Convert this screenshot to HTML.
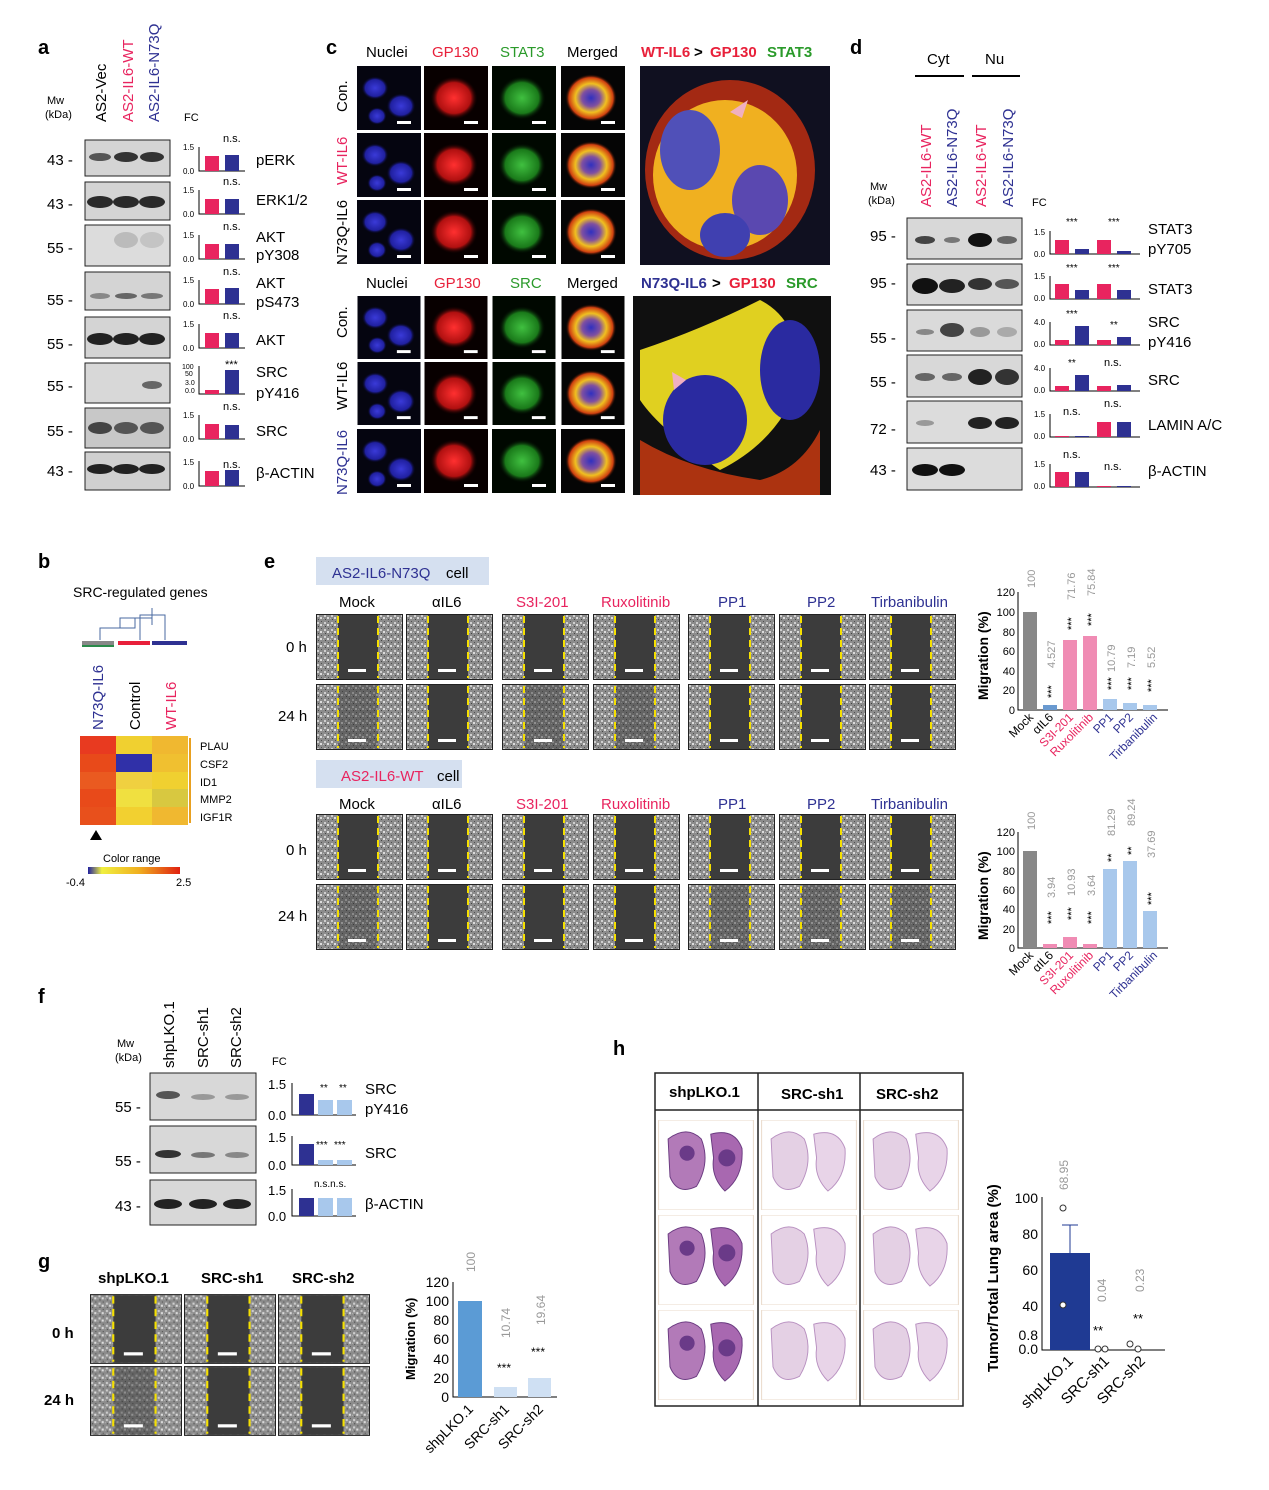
<!DOCTYPE html>
<html><head><meta charset="utf-8"><style>body{margin:0;background:#fff}svg{display:block}text{font-family:"Liberation Sans",Arial,sans-serif}</style></head><body>
<svg width="1269" height="1490" viewBox="0 0 1269 1490" xmlns="http://www.w3.org/2000/svg">
<defs>
<pattern id="tex" width="7" height="7" patternUnits="userSpaceOnUse"><rect width="7" height="7" fill="#8c8c8c"/><rect x="1" y="1" width="2" height="2" fill="#cfcfcf"/><rect x="4" y="3" width="2" height="2" fill="#dcdcdc"/><rect x="2" y="5" width="1" height="1" fill="#444"/><rect x="5" y="0" width="1" height="1" fill="#505050"/><rect x="0" y="4" width="1" height="1" fill="#b8b8b8"/></pattern>
<symbol id="sc" viewBox="0 0 87 66"><rect x="0.5" y="0.5" width="86" height="65" fill="url(#tex)" stroke="#222"/><rect x="22" y="1" width="40" height="64" fill="#3c3c3c"/><line x1="22" y1="2" x2="22" y2="64" stroke="#f5e000" stroke-width="2" stroke-dasharray="7,5"/><line x1="62" y1="2" x2="62" y2="64" stroke="#f5e000" stroke-width="2" stroke-dasharray="7,5"/><rect x="32" y="55" width="18" height="3" fill="#fff"/></symbol>
<symbol id="sc2" viewBox="0 0 87 66"><rect x="0.5" y="0.5" width="86" height="65" fill="url(#tex)" stroke="#222"/><rect x="22" y="1" width="40" height="64" fill="url(#tex)"/><rect x="22" y="1" width="40" height="64" fill="#333" opacity=".45"/><line x1="22" y1="2" x2="22" y2="64" stroke="#f5e000" stroke-width="2" stroke-dasharray="7,5"/><line x1="62" y1="2" x2="62" y2="64" stroke="#f5e000" stroke-width="2" stroke-dasharray="7,5"/><rect x="32" y="55" width="18" height="3" fill="#fff"/></symbol>
<radialGradient id="gb"><stop offset="0" stop-color="#3a3ad8"/><stop offset="0.7" stop-color="#2020a0"/><stop offset="1" stop-color="#000" stop-opacity="0"/></radialGradient>
<radialGradient id="gr"><stop offset="0" stop-color="#ff3030"/><stop offset="0.7" stop-color="#b01010"/><stop offset="1" stop-color="#000" stop-opacity="0"/></radialGradient>
<radialGradient id="gg"><stop offset="0" stop-color="#40c040"/><stop offset="0.7" stop-color="#1a7a1a"/><stop offset="1" stop-color="#000" stop-opacity="0"/></radialGradient>
<radialGradient id="gy"><stop offset="0" stop-color="#3030c0"/><stop offset="0.35" stop-color="#8050a0"/><stop offset="0.6" stop-color="#f0c020"/><stop offset="0.85" stop-color="#d04010"/><stop offset="1" stop-color="#000" stop-opacity="0"/></radialGradient>
<symbol id="mb" viewBox="0 0 64 64"><rect width="64" height="64" fill="#050510"/><ellipse cx="18" cy="22" rx="14" ry="12" fill="url(#gb)"/><ellipse cx="44" cy="40" rx="15" ry="13" fill="url(#gb)"/><ellipse cx="20" cy="50" rx="10" ry="9" fill="url(#gb)"/><rect x="40" y="55" width="14" height="3" fill="#fff"/></symbol>
<symbol id="mr" viewBox="0 0 64 64"><rect width="64" height="64" fill="#080000"/><ellipse cx="30" cy="32" rx="24" ry="22" fill="url(#gr)"/><rect x="40" y="55" width="14" height="3" fill="#fff"/></symbol>
<symbol id="mg" viewBox="0 0 64 64"><rect width="64" height="64" fill="#000800"/><ellipse cx="30" cy="32" rx="24" ry="22" fill="url(#gg)"/><rect x="40" y="55" width="14" height="3" fill="#fff"/></symbol>
<symbol id="mm" viewBox="0 0 64 64"><rect width="64" height="64" fill="#050505"/><ellipse cx="30" cy="32" rx="26" ry="24" fill="url(#gy)"/><rect x="40" y="55" width="14" height="3" fill="#fff"/></symbol>
<symbol id="lung" viewBox="0 0 100 95"><rect width="100" height="95" fill="#fff" stroke="#e8d8c8"/><path d="M10 20 Q30 5 45 20 Q55 45 40 70 Q20 80 12 60 Z" fill="#e4d0e4" stroke="#b890c0"/><path d="M55 15 Q80 8 88 30 Q90 60 70 75 Q55 60 58 40 Z" fill="#e8d4e8" stroke="#b890c0"/></symbol>
<symbol id="lungt" viewBox="0 0 100 95"><rect width="100" height="95" fill="#fff" stroke="#e8d8c8"/><path d="M10 20 Q30 5 45 20 Q55 45 40 70 Q20 80 12 60 Z" fill="#b27ab8" stroke="#6a3a80"/><path d="M55 15 Q80 8 88 30 Q90 60 70 75 Q55 60 58 40 Z" fill="#a868b0" stroke="#6a3a80"/><circle cx="30" cy="35" r="8" fill="#6a3a88"/><circle cx="72" cy="40" r="9" fill="#6a3a88"/></symbol>
</defs>

<!-- ===== Panel a ===== -->
<text x="38" y="54" font-size="20" font-weight="bold">a</text>
<text x="47" y="104" font-size="11">Mw</text><text x="45" y="118" font-size="11">(kDa)</text>
<text transform="translate(106,122) rotate(-90)" font-size="15">AS2-Vec</text>
<text transform="translate(133,122) rotate(-90)" font-size="15" fill="#e8245f">AS2-IL6-WT</text>
<text transform="translate(159,122) rotate(-90)" font-size="15" fill="#2e3192">AS2-IL6-N73Q</text>
<text x="184" y="121" font-size="11">FC</text>
<g font-size="15">
<g transform="translate(0,140)"><rect x="85" y="0" width="85" height="36" fill="#d4d4d4" stroke="#222"/><ellipse cx="100" cy="17" rx="11" ry="4" fill="#555"/><ellipse cx="126" cy="17" rx="12" ry="5" fill="#333"/><ellipse cx="152" cy="17" rx="12" ry="5" fill="#333"/><text x="47" y="25">43 -</text><text x="256" y="25">pERK</text></g>
<g transform="translate(0,182)"><rect x="85" y="0" width="85" height="38" fill="#d4d4d4" stroke="#222"/><ellipse cx="100" cy="20" rx="13" ry="6" fill="#2a2a2a"/><ellipse cx="126" cy="20" rx="13" ry="6" fill="#2a2a2a"/><ellipse cx="152" cy="20" rx="13" ry="6" fill="#2a2a2a"/><text x="47" y="27">43 -</text><text x="256" y="23">ERK1/2</text></g>
<g transform="translate(0,225)"><rect x="85" y="0" width="85" height="41" fill="#dcdcdc" stroke="#222"/><ellipse cx="126" cy="15" rx="12" ry="8" fill="#bbb"/><ellipse cx="152" cy="15" rx="12" ry="8" fill="#c4c4c4"/><text x="47" y="28">55 -</text><text x="256" y="17">AKT</text><text x="256" y="35">pY308</text></g>
<g transform="translate(0,272)"><rect x="85" y="0" width="85" height="38" fill="#d4d4d4" stroke="#222"/><ellipse cx="100" cy="24" rx="10" ry="3" fill="#888"/><ellipse cx="126" cy="24" rx="11" ry="3" fill="#666"/><ellipse cx="152" cy="24" rx="11" ry="3" fill="#777"/><text x="47" y="33">55 -</text><text x="256" y="16">AKT</text><text x="256" y="35">pS473</text></g>
<g transform="translate(0,317)"><rect x="85" y="0" width="85" height="41" fill="#d4d4d4" stroke="#222"/><ellipse cx="100" cy="22" rx="13" ry="6" fill="#222"/><ellipse cx="126" cy="22" rx="13" ry="6" fill="#222"/><ellipse cx="152" cy="22" rx="13" ry="6" fill="#222"/><text x="47" y="32">55 -</text><text x="256" y="28">AKT</text></g>
<g transform="translate(0,363)"><rect x="85" y="0" width="85" height="40" fill="#d8d8d8" stroke="#222"/><ellipse cx="152" cy="22" rx="10" ry="4" fill="#666"/><text x="47" y="28">55 -</text><text x="256" y="14">SRC</text><text x="256" y="35">pY416</text></g>
<g transform="translate(0,408)"><rect x="85" y="0" width="85" height="40" fill="#c8c8c8" stroke="#222"/><ellipse cx="100" cy="20" rx="12" ry="6" fill="#444"/><ellipse cx="126" cy="20" rx="12" ry="6" fill="#555"/><ellipse cx="152" cy="20" rx="12" ry="6" fill="#555"/><text x="47" y="28">55 -</text><text x="256" y="28">SRC</text></g>
<g transform="translate(0,452)"><rect x="85" y="0" width="85" height="38" fill="#d0d0d0" stroke="#222"/><ellipse cx="100" cy="17" rx="13" ry="5" fill="#222"/><ellipse cx="126" cy="17" rx="13" ry="5" fill="#222"/><ellipse cx="152" cy="17" rx="13" ry="5" fill="#222"/><text x="47" y="24">43 -</text><text x="256" y="26">β-ACTIN</text></g>
</g>
<g font-size="8">
<g transform="translate(0,143)"><text x="183" y="7">1.5</text><text x="183" y="31">0.0</text><path d="M199 4 V28 H245" stroke="#000" fill="none"/><rect x="205" y="13" width="14" height="15" fill="#e8245f"/><rect x="225" y="12" width="14" height="16" fill="#2e3192"/><text x="223" y="-1" font-size="11">n.s.</text></g>
<g transform="translate(0,186)"><text x="183" y="7">1.5</text><text x="183" y="31">0.0</text><path d="M199 4 V28 H245" stroke="#000" fill="none"/><rect x="205" y="13" width="14" height="15" fill="#e8245f"/><rect x="225" y="13" width="14" height="15" fill="#2e3192"/><text x="223" y="-1" font-size="11">n.s.</text></g>
<g transform="translate(0,231)"><text x="183" y="7">1.5</text><text x="183" y="31">0.0</text><path d="M199 4 V28 H245" stroke="#000" fill="none"/><rect x="205" y="13" width="14" height="15" fill="#e8245f"/><rect x="225" y="13" width="14" height="15" fill="#2e3192"/><text x="223" y="-1" font-size="11">n.s.</text></g>
<g transform="translate(0,276)"><text x="183" y="7">1.5</text><text x="183" y="31">0.0</text><path d="M199 4 V28 H245" stroke="#000" fill="none"/><rect x="205" y="13" width="14" height="15" fill="#e8245f"/><rect x="225" y="12" width="14" height="16" fill="#2e3192"/><text x="223" y="-1" font-size="11">n.s.</text></g>
<g transform="translate(0,320)"><text x="183" y="7">1.5</text><text x="183" y="31">0.0</text><path d="M199 4 V28 H245" stroke="#000" fill="none"/><rect x="205" y="13" width="14" height="15" fill="#e8245f"/><rect x="225" y="13" width="14" height="15" fill="#2e3192"/><text x="223" y="-1" font-size="11">n.s.</text></g>
<g transform="translate(0,366)"><text x="182" y="3" font-size="7">100</text><text x="185" y="10" font-size="7">50</text><text x="185" y="19" font-size="7">3.0</text><text x="185" y="27" font-size="7">0.0</text><path d="M199 0 V28 H245" stroke="#000" fill="none"/><rect x="205" y="24" width="14" height="4" fill="#e8245f"/><rect x="225" y="4" width="14" height="24" fill="#2e3192"/><text x="225" y="2" font-size="11">***</text></g>
<g transform="translate(0,411)"><text x="183" y="7">1.5</text><text x="183" y="31">0.0</text><path d="M199 4 V28 H245" stroke="#000" fill="none"/><rect x="205" y="13" width="14" height="15" fill="#e8245f"/><rect x="225" y="14" width="14" height="14" fill="#2e3192"/><text x="223" y="-1" font-size="11">n.s.</text></g>
<g transform="translate(0,455)"><text x="183" y="10">1.5</text><text x="183" y="34">0.0</text><path d="M199 6 V31 H245" stroke="#000" fill="none"/><rect x="205" y="16" width="14" height="15" fill="#e8245f"/><rect x="225" y="15" width="14" height="16" fill="#2e3192"/><text x="223" y="13" font-size="11">n.s.</text></g>
</g>

<!-- ===== Panel c ===== -->
<text x="326" y="54" font-size="20" font-weight="bold">c</text>
<g font-size="15">
<text x="366" y="57">Nuclei</text><text x="432" y="57" fill="#e8203a">GP130</text><text x="500" y="57" fill="#2a9a2a">STAT3</text><text x="567" y="57">Merged</text>
<text x="641" y="57" fill="#e8203a" font-weight="bold">WT-IL6</text><text x="694" y="57" font-weight="bold">&gt;</text><text x="710" y="57" fill="#e8203a" font-weight="bold">GP130</text><text x="767" y="57" fill="#2a9a2a" font-weight="bold">STAT3</text>
<text x="366" y="288">Nuclei</text><text x="434" y="288" fill="#e8203a">GP130</text><text x="510" y="288" fill="#2a9a2a">SRC</text><text x="567" y="288">Merged</text>
<text x="641" y="288" fill="#2e3192" font-weight="bold">N73Q-IL6</text><text x="712" y="288" font-weight="bold">&gt;</text><text x="729" y="288" fill="#e8203a" font-weight="bold">GP130</text><text x="786" y="288" fill="#2a9a2a" font-weight="bold">SRC</text>
<text transform="translate(347,112) rotate(-90)">Con.</text>
<text transform="translate(347,185) rotate(-90)" fill="#e8245f">WT-IL6</text>
<text transform="translate(347,265) rotate(-90)">N73Q-IL6</text>
<text transform="translate(347,338) rotate(-90)">Con.</text>
<text transform="translate(347,410) rotate(-90)">WT-IL6</text>
<text transform="translate(347,495) rotate(-90)" fill="#2e3192">N73Q-IL6</text>
</g>
<g>
<use href="#mb" x="357" y="66" width="64" height="64"/><use href="#mr" x="424" y="66" width="64" height="64"/><use href="#mg" x="492" y="66" width="64" height="64"/><use href="#mm" x="561" y="66" width="64" height="64"/>
<use href="#mb" x="357" y="133" width="64" height="64"/><use href="#mr" x="424" y="133" width="64" height="64"/><use href="#mg" x="492" y="133" width="64" height="64"/><use href="#mm" x="561" y="133" width="64" height="64"/>
<use href="#mb" x="357" y="200" width="64" height="64"/><use href="#mr" x="424" y="200" width="64" height="64"/><use href="#mg" x="492" y="200" width="64" height="64"/><use href="#mm" x="561" y="200" width="64" height="64"/>
<use href="#mb" x="357" y="296" width="64" height="63"/><use href="#mr" x="424" y="296" width="64" height="63"/><use href="#mg" x="492" y="296" width="64" height="63"/><use href="#mm" x="561" y="296" width="64" height="63"/>
<use href="#mb" x="357" y="362" width="64" height="63"/><use href="#mr" x="424" y="362" width="64" height="63"/><use href="#mg" x="492" y="362" width="64" height="63"/><use href="#mm" x="561" y="362" width="64" height="63"/>
<use href="#mb" x="357" y="429" width="64" height="64"/><use href="#mr" x="424" y="429" width="64" height="64"/><use href="#mg" x="492" y="429" width="64" height="64"/><use href="#mm" x="561" y="429" width="64" height="64"/>
<rect x="640" y="66" width="190" height="199" fill="#101020"/>
<ellipse cx="730" cy="170" rx="85" ry="90" fill="#c83010" opacity=".8"/>
<ellipse cx="725" cy="175" rx="72" ry="75" fill="#f0b020"/>
<ellipse cx="690" cy="150" rx="30" ry="40" fill="#5050b8"/><ellipse cx="760" cy="200" rx="28" ry="35" fill="#5a48b0"/><ellipse cx="725" cy="235" rx="25" ry="22" fill="#4040b0"/>
<polygon points="730,112 748,100 742,118" fill="#f0b0c0"/>
<rect x="633" y="296" width="198" height="199" fill="#101010"/>
<path d="M640 350 Q700 330 760 300 Q800 320 800 380 Q780 440 720 470 Q660 430 640 400 Z" fill="#e0d020"/>
<path d="M640 440 Q690 470 760 480 Q800 470 820 430 L820 495 L640 495 Z" fill="#c83a10" opacity=".85"/>
<ellipse cx="705" cy="420" rx="42" ry="45" fill="#2a2aa0"/><ellipse cx="790" cy="370" rx="30" ry="50" fill="#2a2aa0"/>
<polygon points="686,380 672,372 674,390" fill="#f0b0c0"/>
</g>

<!-- ===== Panel d ===== -->
<text x="850" y="54" font-size="20" font-weight="bold">d</text>
<g font-size="15">
<text x="927" y="64">Cyt</text><text x="985" y="64">Nu</text>
<line x1="915" y1="76" x2="964" y2="76" stroke="#000" stroke-width="2"/><line x1="972" y1="76" x2="1020" y2="76" stroke="#000" stroke-width="2"/>
<text transform="translate(931,207) rotate(-90)" fill="#e8245f">AS2-IL6-WT</text>
<text transform="translate(957,207) rotate(-90)" fill="#2e3192">AS2-IL6-N73Q</text>
<text transform="translate(986,207) rotate(-90)" fill="#e8245f">AS2-IL6-WT</text>
<text transform="translate(1013,207) rotate(-90)" fill="#2e3192">AS2-IL6-N73Q</text>
<text x="870" y="190" font-size="11">Mw</text><text x="868" y="204" font-size="11">(kDa)</text>
<text x="1032" y="206" font-size="11">FC</text>
</g>
<g font-size="15">
<g transform="translate(0,218)"><rect x="907" y="0" width="115" height="41" fill="#d8d8d8" stroke="#222"/><ellipse cx="925" cy="22" rx="10" ry="4" fill="#444"/><ellipse cx="952" cy="22" rx="8" ry="3" fill="#777"/><ellipse cx="980" cy="22" rx="12" ry="7" fill="#111"/><ellipse cx="1007" cy="22" rx="10" ry="4" fill="#666"/><text x="870" y="23">95 -</text><text x="1148" y="16">STAT3</text><text x="1148" y="36">pY705</text></g>
<g transform="translate(0,264)"><rect x="907" y="0" width="115" height="41" fill="#d8d8d8" stroke="#222"/><ellipse cx="925" cy="22" rx="13" ry="8" fill="#111"/><ellipse cx="952" cy="22" rx="13" ry="7" fill="#222"/><ellipse cx="980" cy="20" rx="12" ry="6" fill="#333"/><ellipse cx="1007" cy="20" rx="12" ry="5" fill="#555"/><text x="870" y="24">95 -</text><text x="1148" y="30">STAT3</text></g>
<g transform="translate(0,310)"><rect x="907" y="0" width="115" height="41" fill="#dadada" stroke="#222"/><ellipse cx="925" cy="22" rx="9" ry="3" fill="#888"/><ellipse cx="952" cy="20" rx="12" ry="7" fill="#444"/><ellipse cx="980" cy="22" rx="10" ry="5" fill="#999"/><ellipse cx="1007" cy="22" rx="10" ry="5" fill="#aaa"/><text x="870" y="33">55 -</text><text x="1148" y="17">SRC</text><text x="1148" y="37">pY416</text></g>
<g transform="translate(0,355)"><rect x="907" y="0" width="115" height="42" fill="#d8d8d8" stroke="#222"/><ellipse cx="925" cy="22" rx="10" ry="4" fill="#666"/><ellipse cx="952" cy="22" rx="10" ry="4" fill="#666"/><ellipse cx="980" cy="22" rx="12" ry="8" fill="#222"/><ellipse cx="1007" cy="22" rx="12" ry="8" fill="#333"/><text x="870" y="32">55 -</text><text x="1148" y="30">SRC</text></g>
<g transform="translate(0,401)"><rect x="907" y="0" width="115" height="42" fill="#dcdcdc" stroke="#222"/><ellipse cx="925" cy="22" rx="9" ry="3" fill="#999"/><ellipse cx="980" cy="22" rx="12" ry="6" fill="#222"/><ellipse cx="1007" cy="22" rx="12" ry="6" fill="#222"/><text x="870" y="33">72 -</text><text x="1148" y="29">LAMIN A/C</text></g>
<g transform="translate(0,448)"><rect x="907" y="0" width="115" height="42" fill="#dcdcdc" stroke="#222"/><ellipse cx="925" cy="22" rx="13" ry="6" fill="#111"/><ellipse cx="952" cy="22" rx="13" ry="6" fill="#111"/><text x="870" y="27">43 -</text><text x="1148" y="28">β-ACTIN</text></g>
</g>
<g font-size="8">
<g transform="translate(0,228)"><text x="1034" y="7">1.5</text><text x="1034" y="29">0.0</text><path d="M1050 3 V26 H1140" stroke="#000" fill="none"/><rect x="1055" y="12" width="14" height="14" fill="#e8245f"/><rect x="1075" y="21" width="14" height="5" fill="#2e3192"/><rect x="1097" y="12" width="14" height="14" fill="#e8245f"/><rect x="1117" y="23" width="14" height="3" fill="#2e3192"/><text x="1066" y="-3" font-size="10">***</text><text x="1108" y="-3" font-size="10">***</text></g>
<g transform="translate(0,274)"><text x="1034" y="5">1.5</text><text x="1034" y="27">0.0</text><path d="M1050 2 V25 H1140" stroke="#000" fill="none"/><rect x="1055" y="10" width="14" height="15" fill="#e8245f"/><rect x="1075" y="16" width="14" height="9" fill="#2e3192"/><rect x="1097" y="10" width="14" height="15" fill="#e8245f"/><rect x="1117" y="16" width="14" height="9" fill="#2e3192"/><text x="1066" y="-3" font-size="10">***</text><text x="1108" y="-3" font-size="10">***</text></g>
<g transform="translate(0,320)"><text x="1034" y="5">4.0</text><text x="1034" y="27">0.0</text><path d="M1050 2 V25 H1140" stroke="#000" fill="none"/><rect x="1055" y="20" width="14" height="5" fill="#e8245f"/><rect x="1075" y="6" width="14" height="19" fill="#2e3192"/><rect x="1097" y="20" width="14" height="5" fill="#e8245f"/><rect x="1117" y="17" width="14" height="8" fill="#2e3192"/><text x="1066" y="-3" font-size="10">***</text><text x="1110" y="8" font-size="10">**</text></g>
<g transform="translate(0,366)"><text x="1034" y="5">4.0</text><text x="1034" y="27">0.0</text><path d="M1050 2 V25 H1140" stroke="#000" fill="none"/><rect x="1055" y="20" width="14" height="5" fill="#e8245f"/><rect x="1075" y="9" width="14" height="16" fill="#2e3192"/><rect x="1097" y="20" width="14" height="5" fill="#e8245f"/><rect x="1117" y="19" width="14" height="6" fill="#2e3192"/><text x="1068" y="0" font-size="10">**</text><text x="1104" y="0" font-size="11">n.s.</text></g>
<g transform="translate(0,412)"><text x="1034" y="5">1.5</text><text x="1034" y="27">0.0</text><path d="M1050 2 V25 H1140" stroke="#000" fill="none"/><rect x="1055" y="24" width="14" height="1" fill="#e8245f"/><rect x="1075" y="24" width="14" height="1" fill="#2e3192"/><rect x="1097" y="10" width="14" height="15" fill="#e8245f"/><rect x="1117" y="10" width="14" height="15" fill="#2e3192"/><text x="1063" y="3" font-size="11">n.s.</text><text x="1104" y="-5" font-size="11">n.s.</text></g>
<g transform="translate(0,462)"><text x="1034" y="5">1.5</text><text x="1034" y="27">0.0</text><path d="M1050 2 V25 H1140" stroke="#000" fill="none"/><rect x="1055" y="10" width="14" height="15" fill="#e8245f"/><rect x="1075" y="10" width="14" height="15" fill="#2e3192"/><rect x="1097" y="24" width="14" height="1" fill="#e8245f"/><rect x="1117" y="24" width="14" height="1" fill="#2e3192"/><text x="1063" y="-4" font-size="11">n.s.</text><text x="1104" y="8" font-size="11">n.s.</text></g>
</g>

<!-- ===== Panel b ===== -->
<text x="38" y="568" font-size="20" font-weight="bold">b</text>
<text x="73" y="597" font-size="14">SRC-regulated genes</text>
<path d="M100 640 V628 H135 V618 H152 V625 M152 618 V608 M120 628 V618 H135 M140 625 V615 H165 V640 M140 625 V640" stroke="#4a6aa0" fill="none"/>
<rect x="82" y="641" width="32" height="4" fill="#888"/><rect x="82" y="645" width="32" height="2" fill="#2a8a4a"/><rect x="118" y="641" width="32" height="4" fill="#e8203a"/><rect x="152" y="641" width="35" height="4" fill="#2e3192"/>
<text transform="translate(103,730) rotate(-90)" font-size="15" fill="#2e3192">N73Q-IL6</text>
<text transform="translate(140,730) rotate(-90)" font-size="15">Control</text>
<text transform="translate(176,730) rotate(-90)" font-size="15" fill="#e8245f">WT-IL6</text>
<g>
<rect x="80" y="736" width="36" height="18" fill="#e83a20"/><rect x="80" y="754" width="36" height="18" fill="#e84a1a"/><rect x="80" y="772" width="36" height="17" fill="#ea5a20"/><rect x="80" y="789" width="36" height="18" fill="#e84a1a"/><rect x="80" y="807" width="36" height="18" fill="#e8501c"/>
<rect x="116" y="736" width="36" height="18" fill="#f0d030"/><rect x="116" y="754" width="36" height="18" fill="#3030a8"/><rect x="116" y="772" width="36" height="17" fill="#f0d040"/><rect x="116" y="789" width="36" height="18" fill="#f0e040"/><rect x="116" y="807" width="36" height="18" fill="#f2d030"/>
<rect x="152" y="736" width="36" height="18" fill="#f0b830"/><rect x="152" y="754" width="36" height="18" fill="#f0c030"/><rect x="152" y="772" width="36" height="17" fill="#f0d030"/><rect x="152" y="789" width="36" height="18" fill="#d8c840"/><rect x="152" y="807" width="36" height="18" fill="#f0b830"/>
<line x1="190" y1="738" x2="190" y2="823" stroke="#e8a020" stroke-width="2"/>
</g>
<g font-size="11"><text x="200" y="750">PLAU</text><text x="200" y="768">CSF2</text><text x="200" y="786">ID1</text><text x="200" y="803">MMP2</text><text x="200" y="821">IGF1R</text></g>
<polygon points="96,830 90,840 102,840" fill="#000"/>
<text x="103" y="862" font-size="11">Color range</text>
<defs><linearGradient id="cr"><stop offset="0" stop-color="#2020a0"/><stop offset="0.15" stop-color="#f0f040"/><stop offset="0.55" stop-color="#f0b020"/><stop offset="1" stop-color="#e02010"/></linearGradient></defs>
<rect x="88" y="867" width="92" height="7" fill="url(#cr)"/>
<text x="66" y="886" font-size="11">-0.4</text><text x="176" y="886" font-size="11">2.5</text>

<!-- ===== Panel e ===== -->
<text x="264" y="568" font-size="20" font-weight="bold">e</text>
<rect x="316" y="557" width="173" height="28" fill="#d5e0f0"/><text x="332" y="578" font-size="15" fill="#2e3192">AS2-IL6-N73Q</text><text x="446" y="578" font-size="15">cell</text>
<rect x="316" y="760" width="146" height="28" fill="#d5e0f0"/><text x="341" y="781" font-size="15" fill="#e8245f">AS2-IL6-WT</text><text x="437" y="781" font-size="15">cell</text>
<g font-size="15">
<text x="339" y="607">Mock</text><text x="432" y="607">αIL6</text><text x="516" y="607" fill="#e8245f">S3I-201</text><text x="601" y="607" fill="#e8245f">Ruxolitinib</text><text x="718" y="607" fill="#2e3192">PP1</text><text x="807" y="607" fill="#2e3192">PP2</text><text x="871" y="607" fill="#2e3192">Tirbanibulin</text>
<text x="339" y="809">Mock</text><text x="432" y="809">αIL6</text><text x="516" y="809" fill="#e8245f">S3I-201</text><text x="601" y="809" fill="#e8245f">Ruxolitinib</text><text x="718" y="809" fill="#2e3192">PP1</text><text x="807" y="809" fill="#2e3192">PP2</text><text x="871" y="809" fill="#2e3192">Tirbanibulin</text>
<text x="286" y="652">0 h</text><text x="278" y="721">24 h</text>
<text x="286" y="855">0 h</text><text x="278" y="921">24 h</text>
</g>
<g>
<use href="#sc" x="316" y="614" width="87" height="66"/><use href="#sc" x="406" y="614" width="87" height="66"/><use href="#sc" x="502" y="614" width="87" height="66"/><use href="#sc" x="593" y="614" width="87" height="66"/><use href="#sc" x="688" y="614" width="87" height="66"/><use href="#sc" x="779" y="614" width="87" height="66"/><use href="#sc" x="869" y="614" width="87" height="66"/>
<use href="#sc2" x="316" y="684" width="87" height="66"/><use href="#sc" x="406" y="684" width="87" height="66"/><use href="#sc2" x="502" y="684" width="87" height="66"/><use href="#sc2" x="593" y="684" width="87" height="66"/><use href="#sc" x="688" y="684" width="87" height="66"/><use href="#sc" x="779" y="684" width="87" height="66"/><use href="#sc" x="869" y="684" width="87" height="66"/>
<use href="#sc" x="316" y="814" width="87" height="66"/><use href="#sc" x="406" y="814" width="87" height="66"/><use href="#sc" x="502" y="814" width="87" height="66"/><use href="#sc" x="593" y="814" width="87" height="66"/><use href="#sc" x="688" y="814" width="87" height="66"/><use href="#sc" x="779" y="814" width="87" height="66"/><use href="#sc" x="869" y="814" width="87" height="66"/>
<use href="#sc2" x="316" y="884" width="87" height="66"/><use href="#sc" x="406" y="884" width="87" height="66"/><use href="#sc" x="502" y="884" width="87" height="66"/><use href="#sc" x="593" y="884" width="87" height="66"/><use href="#sc2" x="688" y="884" width="87" height="66"/><use href="#sc2" x="779" y="884" width="87" height="66"/><use href="#sc2" x="869" y="884" width="87" height="66"/>
</g>
<g font-size="11">
<text transform="translate(988,700) rotate(-90)" font-size="14" font-weight="bold">Migration (%)</text>
<path d="M1018 592 V710 H1168" stroke="#000" fill="none"/>
<g text-anchor="end"><text x="1015" y="596">120</text><text x="1015" y="616">100</text><text x="1015" y="636">80</text><text x="1015" y="655">60</text><text x="1015" y="675">40</text><text x="1015" y="694">20</text><text x="1015" y="714">0</text></g>
<rect x="1023" y="612" width="14" height="98" fill="#888"/><rect x="1043" y="705" width="14" height="5" fill="#6a9ad0"/><rect x="1063" y="640" width="14" height="70" fill="#f08cb4"/><rect x="1083" y="636" width="14" height="74" fill="#f08cb4"/><rect x="1103" y="699" width="14" height="11" fill="#a8c8ec"/><rect x="1123" y="703" width="14" height="7" fill="#a8c8ec"/><rect x="1143" y="705" width="14" height="5" fill="#a8c8ec"/>
<g fill="#999"><text transform="translate(1035,588) rotate(-90)">100</text><text transform="translate(1055,668) rotate(-90)">4.527</text><text transform="translate(1075,600) rotate(-90)">71.76</text><text transform="translate(1095,596) rotate(-90)">75.84</text><text transform="translate(1115,672) rotate(-90)">10.79</text><text transform="translate(1135,668) rotate(-90)">7.19</text><text transform="translate(1155,668) rotate(-90)">5.52</text></g>
<g><text transform="translate(1055,698) rotate(-90)">***</text><text transform="translate(1075,630) rotate(-90)">***</text><text transform="translate(1095,626) rotate(-90)">***</text><text transform="translate(1115,690) rotate(-90)">***</text><text transform="translate(1135,690) rotate(-90)">***</text><text transform="translate(1155,692) rotate(-90)">***</text></g>
<g font-size="12" text-anchor="end"><text transform="translate(1034,718) rotate(-45)">Mock</text><text transform="translate(1054,718) rotate(-45)">αIL6</text><text transform="translate(1074,718) rotate(-45)" fill="#e8245f">S3I-201</text><text transform="translate(1094,718) rotate(-45)" fill="#e8245f">Ruxolitinib</text><text transform="translate(1114,718) rotate(-45)" fill="#2e3192">PP1</text><text transform="translate(1134,718) rotate(-45)" fill="#2e3192">PP2</text><text transform="translate(1158,718) rotate(-45)" fill="#2e3192">Tirbanibulin</text></g>
</g>
<g font-size="11">
<text transform="translate(988,940) rotate(-90)" font-size="14" font-weight="bold">Migration (%)</text>
<path d="M1018 832 V948 H1168" stroke="#000" fill="none"/>
<g text-anchor="end"><text x="1015" y="836">120</text><text x="1015" y="855">100</text><text x="1015" y="875">80</text><text x="1015" y="894">60</text><text x="1015" y="913">40</text><text x="1015" y="933">20</text><text x="1015" y="952">0</text></g>
<rect x="1023" y="851" width="14" height="97" fill="#888"/><rect x="1043" y="944" width="14" height="4" fill="#f08cb4"/><rect x="1063" y="937" width="14" height="11" fill="#f08cb4"/><rect x="1083" y="944" width="14" height="4" fill="#f08cb4"/><rect x="1103" y="869" width="14" height="79" fill="#a8c8ec"/><rect x="1123" y="861" width="14" height="87" fill="#a8c8ec"/><rect x="1143" y="911" width="14" height="37" fill="#a8c8ec"/>
<g fill="#999"><text transform="translate(1035,830) rotate(-90)">100</text><text transform="translate(1055,898) rotate(-90)">3.94</text><text transform="translate(1075,896) rotate(-90)">10.93</text><text transform="translate(1095,896) rotate(-90)">3.64</text><text transform="translate(1115,836) rotate(-90)">81.29</text><text transform="translate(1135,826) rotate(-90)">89.24</text><text transform="translate(1155,858) rotate(-90)">37.69</text></g>
<g><text transform="translate(1055,924) rotate(-90)">***</text><text transform="translate(1075,920) rotate(-90)">***</text><text transform="translate(1095,924) rotate(-90)">***</text><text transform="translate(1115,862) rotate(-90)">**</text><text transform="translate(1135,855) rotate(-90)">**</text><text transform="translate(1155,905) rotate(-90)">***</text></g>
<g font-size="12" text-anchor="end"><text transform="translate(1034,956) rotate(-45)">Mock</text><text transform="translate(1054,956) rotate(-45)">αIL6</text><text transform="translate(1074,956) rotate(-45)" fill="#e8245f">S3I-201</text><text transform="translate(1094,956) rotate(-45)" fill="#e8245f">Ruxolitinib</text><text transform="translate(1114,956) rotate(-45)" fill="#2e3192">PP1</text><text transform="translate(1134,956) rotate(-45)" fill="#2e3192">PP2</text><text transform="translate(1158,956) rotate(-45)" fill="#2e3192">Tirbanibulin</text></g>
</g>

<!-- ===== Panel f ===== -->
<text x="38" y="1003" font-size="20" font-weight="bold">f</text>
<text transform="translate(174,1068) rotate(-90)" font-size="15">shpLKO.1</text>
<text transform="translate(208,1068) rotate(-90)" font-size="15">SRC-sh1</text>
<text transform="translate(241,1068) rotate(-90)" font-size="15">SRC-sh2</text>
<text x="117" y="1047" font-size="11">Mw</text><text x="115" y="1061" font-size="11">(kDa)</text>
<text x="272" y="1065" font-size="11">FC</text>
<g font-size="15">
<g transform="translate(0,1073)"><rect x="150" y="0" width="106" height="47" fill="#d8d8d8" stroke="#222"/><ellipse cx="168" cy="22" rx="12" ry="4" fill="#555"/><ellipse cx="203" cy="24" rx="12" ry="3" fill="#999"/><ellipse cx="237" cy="24" rx="12" ry="3" fill="#999"/><text x="115" y="39">55 -</text><text x="365" y="21">SRC</text><text x="365" y="41">pY416</text></g>
<g transform="translate(0,1126)"><rect x="150" y="0" width="106" height="47" fill="#d8d8d8" stroke="#222"/><ellipse cx="168" cy="28" rx="13" ry="4" fill="#333"/><ellipse cx="203" cy="29" rx="12" ry="3" fill="#777"/><ellipse cx="237" cy="29" rx="12" ry="3" fill="#888"/><text x="115" y="40">55 -</text><text x="365" y="32">SRC</text></g>
<g transform="translate(0,1180)"><rect x="150" y="0" width="106" height="45" fill="#d8d8d8" stroke="#222"/><ellipse cx="168" cy="24" rx="14" ry="5" fill="#222"/><ellipse cx="203" cy="24" rx="14" ry="5" fill="#222"/><ellipse cx="237" cy="24" rx="14" ry="5" fill="#222"/><text x="115" y="31">43 -</text><text x="365" y="29">β-ACTIN</text></g>
</g>
<g font-size="13">
<g transform="translate(0,1078)"><text x="268" y="11">1.5</text><text x="268" y="42">0.0</text><path d="M292 5 V37 H356" stroke="#000" fill="none"/><rect x="299" y="16" width="15" height="21" fill="#2e3192"/><rect x="318" y="22" width="15" height="15" fill="#a8c8ec"/><rect x="337" y="22" width="15" height="15" fill="#a8c8ec"/><text x="320" y="13" font-size="10">**</text><text x="339" y="13" font-size="10">**</text></g>
<g transform="translate(0,1131)"><text x="268" y="11">1.5</text><text x="268" y="39">0.0</text><path d="M292 5 V34 H356" stroke="#000" fill="none"/><rect x="299" y="13" width="15" height="21" fill="#2e3192"/><rect x="318" y="29" width="15" height="5" fill="#a8c8ec"/><rect x="337" y="29" width="15" height="5" fill="#a8c8ec"/><text x="316" y="17" font-size="10">***</text><text x="334" y="17" font-size="10">***</text></g>
<g transform="translate(0,1184)"><text x="268" y="11">1.5</text><text x="268" y="37">0.0</text><path d="M292 5 V32 H356" stroke="#000" fill="none"/><rect x="299" y="14" width="15" height="18" fill="#2e3192"/><rect x="318" y="14" width="15" height="18" fill="#a8c8ec"/><rect x="337" y="14" width="15" height="18" fill="#a8c8ec"/><text x="314" y="3" font-size="10">n.s.n.s.</text></g>
</g>

<!-- ===== Panel g ===== -->
<text x="38" y="1268" font-size="20" font-weight="bold">g</text>
<g font-size="15" font-weight="bold"><text x="98" y="1283">shpLKO.1</text><text x="201" y="1283">SRC-sh1</text><text x="292" y="1283">SRC-sh2</text><text x="52" y="1338">0 h</text><text x="44" y="1405">24 h</text></g>
<use href="#sc" x="90" y="1293" width="92" height="72" preserveAspectRatio="none"/><use href="#sc" x="184" y="1293" width="92" height="72" preserveAspectRatio="none"/><use href="#sc" x="278" y="1293" width="92" height="72" preserveAspectRatio="none"/>
<use href="#sc2" x="90" y="1366" width="92" height="70" preserveAspectRatio="none"/><use href="#sc" x="184" y="1366" width="92" height="70" preserveAspectRatio="none"/><use href="#sc" x="278" y="1366" width="92" height="70" preserveAspectRatio="none"/>
<g font-size="14">
<text transform="translate(415,1380) rotate(-90)" font-size="13" font-weight="bold">Migration (%)</text>
<path d="M453 1282 V1397 H557" stroke="#000" fill="none"/>
<g text-anchor="end"><text x="449" y="1287">120</text><text x="449" y="1306">100</text><text x="449" y="1325">80</text><text x="449" y="1344">60</text><text x="449" y="1364">40</text><text x="449" y="1383">20</text><text x="449" y="1402">0</text></g>
<rect x="458" y="1301" width="24" height="96" fill="#5b9bd5"/><rect x="494" y="1387" width="23" height="10" fill="#cfe0f3"/><rect x="528" y="1378" width="23" height="19" fill="#cfe0f3"/>
<g fill="#999" font-size="12"><text transform="translate(475,1272) rotate(-90)">100</text><text transform="translate(510,1338) rotate(-90)">10.74</text><text transform="translate(545,1325) rotate(-90)">19.64</text></g>
<text x="497" y="1372" font-size="12">***</text><text x="531" y="1356" font-size="12">***</text>
<g text-anchor="end" font-size="14"><text transform="translate(474,1410) rotate(-45)">shpLKO.1</text><text transform="translate(510,1410) rotate(-45)">SRC-sh1</text><text transform="translate(544,1410) rotate(-45)">SRC-sh2</text></g>
</g>

<!-- ===== Panel h ===== -->
<text x="613" y="1055" font-size="20" font-weight="bold">h</text>
<rect x="655" y="1073" width="308" height="333" fill="#fff" stroke="#222" stroke-width="1.5"/>
<line x1="655" y1="1110" x2="963" y2="1110" stroke="#222" stroke-width="1.5"/>
<line x1="758" y1="1073" x2="758" y2="1406" stroke="#222" stroke-width="1.5"/><line x1="860" y1="1073" x2="860" y2="1406" stroke="#222" stroke-width="1.5"/>
<g font-size="15" font-weight="bold"><text x="669" y="1097">shpLKO.1</text><text x="781" y="1099">SRC-sh1</text><text x="876" y="1099">SRC-sh2</text></g>
<use href="#lungt" x="657" y="1120" width="98" height="90"/><use href="#lung" x="760" y="1120" width="98" height="90"/><use href="#lung" x="862" y="1120" width="98" height="90"/>
<use href="#lungt" x="657" y="1215" width="98" height="90"/><use href="#lung" x="760" y="1215" width="98" height="90"/><use href="#lung" x="862" y="1215" width="98" height="90"/>
<use href="#lungt" x="657" y="1310" width="98" height="90"/><use href="#lung" x="760" y="1310" width="98" height="90"/><use href="#lung" x="862" y="1310" width="98" height="90"/>
<g font-size="14">
<text transform="translate(998,1372) rotate(-90)" font-size="15" font-weight="bold">Tumor/Total Lung area (%)</text>
<path d="M1042 1197 V1350 H1165" stroke="#000" fill="none"/>
<g text-anchor="end"><text x="1038" y="1203">100</text><text x="1038" y="1239">80</text><text x="1038" y="1275">60</text><text x="1038" y="1311">40</text><text x="1038" y="1340">0.8</text><text x="1038" y="1354">0.0</text></g>
<rect x="1050" y="1253" width="40" height="97" fill="#1f3a93"/><path d="M1070 1225 V1280 M1062 1225 H1078" stroke="#1f3a93"/>
<circle cx="1063" cy="1208" r="3" fill="#fff" stroke="#333"/><circle cx="1063" cy="1305" r="3" fill="#fff" stroke="#333"/>
<circle cx="1098" cy="1349" r="3" fill="#fff" stroke="#333"/><circle cx="1105" cy="1349" r="3" fill="#fff" stroke="#333"/><circle cx="1130" cy="1344" r="3" fill="#fff" stroke="#333"/><circle cx="1138" cy="1349" r="3" fill="#fff" stroke="#333"/>
<g fill="#999" font-size="12"><text transform="translate(1068,1190) rotate(-90)">68.95</text><text transform="translate(1106,1302) rotate(-90)">0.04</text><text transform="translate(1144,1292) rotate(-90)">0.23</text></g>
<text x="1093" y="1335" font-size="13">**</text><text x="1133" y="1323" font-size="13">**</text>
<g text-anchor="end" font-size="15"><text transform="translate(1074,1362) rotate(-45)">shpLKO.1</text><text transform="translate(1110,1362) rotate(-45)">SRC-sh1</text><text transform="translate(1146,1362) rotate(-45)">SRC-sh2</text></g>
</g>
</svg>
</body></html>
